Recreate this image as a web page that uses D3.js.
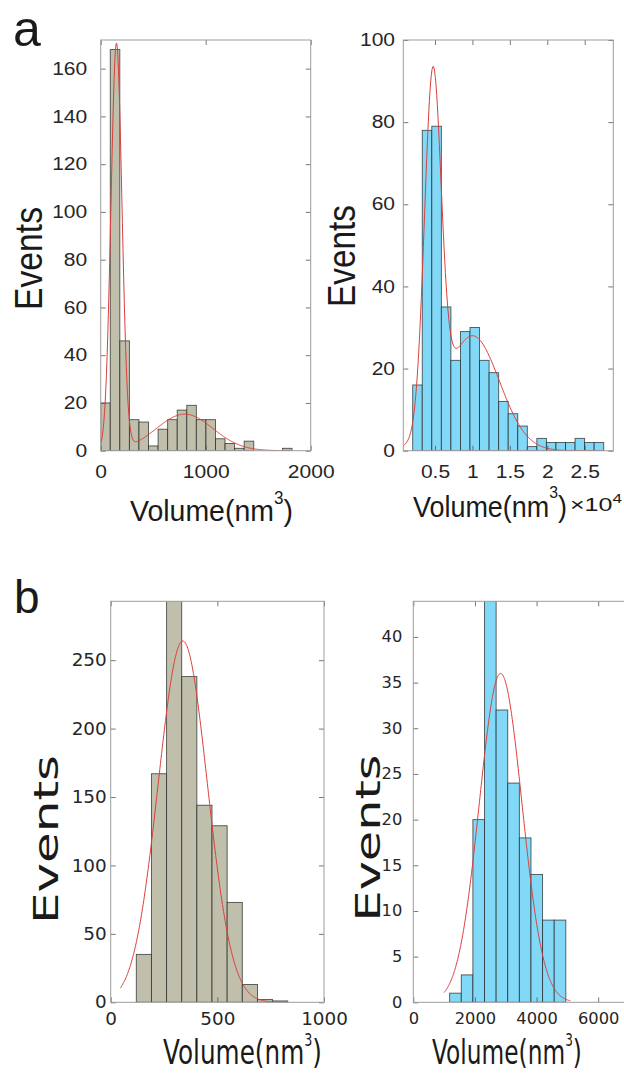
<!DOCTYPE html>
<html>
<head>
<meta charset="utf-8">
<script src="https://cdn.jsdelivr.net/npm/d3@7"></script>
<style>
html,body{margin:0;padding:0;background:#fff;}
svg{display:block;}
</style>
</head>
<body>
<svg id="chart" width="624" height="1077"></svg>
<script>
// ---------------- DATA ----------------
// Panel a, left: grey histogram (Volume in nm^3)
const aLeftCounts = [20, 168, 46, 13, 12, 2, 9, 13, 17, 19, 13, 13, 5, 3, 1, 4, 0, 0, 0, 1];
const aLeftBinStart = 0;
const aLeftBinWidth = 91.1;
const aLeftXDomain = [0, 2000];
const aLeftYDomain = [0, 172];
const aLeftXTicks = [0, 1000, 2000];
const aLeftYTicks = [0, 20, 40, 60, 80, 100, 120, 140, 160];
const aLeftFitMu = [150, 800];
const aLeftFitSigma = [52, 270];
const aLeftFitAmp = [170, 15.3];
const aLeftFitRange = [0, 1822];

// Panel a, right: blue histogram (Volume in 10^4 nm^3)
const aRightCounts = [16, 78, 79, 35, 22, 29, 30, 22, 19, 12, 9, 6, 1, 3, 2, 2, 2, 3, 2, 2];
const aRightBinStart = 0.202;
const aRightBinWidth = 0.1276;
const aRightXDomain = [0.0764, 2.882];
const aRightYDomain = [0, 100];
const aRightXTicks = [0.5, 1, 1.5, 2, 2.5];
const aRightYTicks = [0, 20, 40, 60, 80, 100];
const aRightFitMu = [0.47, 1.0];
const aRightFitSigma = [0.111, 0.36];
const aRightFitAmp = [84, 28];
const aRightFitRange = [0.0764, 2.754];

// Panel b, left: grey histogram
const bLeftCounts = [35, 167, 300, 238, 144, 129, 73, 13, 2, 1];
const bLeftBinStart = 120;
const bLeftBinWidth = 71;
const bLeftXDomain = [0, 1000];
const bLeftYDomain = [0, 293];
const bLeftXTicks = [0, 500, 1000];
const bLeftYTicks = [0, 50, 100, 150, 200, 250];
const bLeftFitMu = [338];
const bLeftFitSigma = [115];
const bLeftFitAmp = [264];
const bLeftFitRange = [45, 830];

// Panel b, right: blue histogram
const bRightCounts = [1, 3, 20, 46, 32, 24, 18, 14, 9, 9];
const bRightBinStart = 1180;
const bRightBinWidth = 377;
const bRightXDomain = [0, 7000];
const bRightYDomain = [0, 43.9];
const bRightXTicks = [0, 2000, 4000, 6000];
const bRightYTicks = [0, 5, 10, 15, 20, 25, 30, 35, 40];
const bRightFitMu = [2834];
const bRightFitSigma = [691];
const bRightFitAmp = [36];
const bRightFitRange = [1000, 5100];

// ---------------- STYLE ----------------
const GREY = "#bfbfab";
const BLUE = "#82d9f7";
const EDGE = "#1f1f1f";
const FIT = "#d9403c";
const BOX = "#9d9d9d";
const TXT = "#262626";
const FONT_A = "'Liberation Sans', Arial, sans-serif";
const FONT_B = "'DejaVu Sans', Verdana, sans-serif";

const svg = d3.select("#chart");

function fitCurve(mu, sigma, amp, range) {
  const n = 300;
  const pts = [];
  for (let i = 0; i <= n; i++) {
    const x = range[0] + (range[1] - range[0]) * i / n;
    let y = 0;
    for (let k = 0; k < mu.length; k++) {
      y += amp[k] * Math.exp(-((x - mu[k]) ** 2) / (2 * sigma[k] ** 2));
    }
    pts.push([x, y]);
  }
  return pts;
}

let clipId = 0;
function drawPanel(p) {
  const x = d3.scaleLinear().domain(p.xDomain).range([p.left, p.right]);
  const y = d3.scaleLinear().domain(p.yDomain).range([p.bottom, p.top]);
  const g = svg.append("g");
  const id = "clip" + (clipId++);
  g.append("clipPath").attr("id", id).append("rect")
    .attr("x", p.left).attr("y", p.top)
    .attr("width", p.right - p.left).attr("height", p.bottom - p.top);
  const plot = g.append("g").attr("clip-path", `url(#${id})`);

  const bins = p.counts.map((c, i) => ({
    x0: p.binStart + i * p.binWidth,
    x1: p.binStart + (i + 1) * p.binWidth,
    c
  }));
  plot.selectAll("rect.bar").data(bins.filter(b => b.c > 0)).join("rect")
    .attr("class", "bar")
    .attr("x", d => x(d.x0))
    .attr("width", d => x(d.x1) - x(d.x0))
    .attr("y", d => y(d.c))
    .attr("height", d => y(0) - y(d.c))
    .attr("fill", p.color)
    .attr("stroke", EDGE)
    .attr("stroke-opacity", 0.75)
    .attr("stroke-width", 0.9);

  const pts = fitCurve(p.fitMu, p.fitSigma, p.fitAmp, p.fitRange);
  plot.append("path")
    .datum(pts)
    .attr("d", d3.line().x(d => x(d[0])).y(d => y(d[1])))
    .attr("fill", "none")
    .attr("stroke", FIT)
    .attr("stroke-width", 1);

  // axes (ticks inward on all four sides)
  const tl = 5;
  const gx = g.append("g").attr("transform", `translate(0,${p.bottom})`)
    .call(d3.axisBottom(x).tickValues(p.xTicks).tickSize(-tl).tickPadding(p.xPad).tickFormat(d => d));
  const gy = g.append("g").attr("transform", `translate(${p.left},0)`)
    .call(d3.axisLeft(y).tickValues(p.yTicks).tickSize(-tl).tickPadding(p.yPad));
  g.append("g").attr("transform", `translate(0,${p.top})`)
    .call(d3.axisTop(x).tickValues(p.xTicks).tickSize(-tl).tickFormat(""));
  g.append("g").attr("transform", `translate(${p.right},0)`)
    .call(d3.axisRight(y).tickValues(p.yTicks).tickSize(-tl).tickFormat(""));
  g.selectAll(".domain").remove();
  g.selectAll(".tick line").attr("stroke", "#555").attr("stroke-width", 0.8);
  [gx, gy].forEach(a => {
    a.attr("font-family", p.font).attr("font-size", p.tickFont);
    a.selectAll("text").attr("fill", TXT).each(function () {
      const t = d3.select(this);
      const L = this.getComputedTextLength();
      if (L > 0) t.attr("textLength", L * p.tickSx).attr("lengthAdjust", "spacingAndGlyphs");
    });
  });

  g.append("rect")
    .attr("x", p.left).attr("y", p.top)
    .attr("width", p.right - p.left).attr("height", p.bottom - p.top)
    .attr("fill", "none").attr("stroke", BOX).attr("stroke-width", 1);
}

function label(txt, x, y, size, len, font, opts = {}) {
  const t = svg.append("text")
    .attr("x", x).attr("y", y)
    .attr("font-family", font).attr("font-size", size)
    .attr("fill", "#1a1a1a")
    .attr("text-anchor", opts.anchor || "start")
    .text(txt);
  if (len) t.attr("textLength", len).attr("lengthAdjust", "spacingAndGlyphs");
  if (opts.rotate) t.attr("transform", `rotate(${opts.rotate},${x},${y})`);
  return t;
}

// "Volume(nm^3)" laid out naturally, then scaled as a whole to the measured width
function volumeLabel(x, y, size, supSize, supDy, width, font) {
  const g = svg.append("g");
  const t = g.append("text")
    .attr("x", 0).attr("y", 0)
    .attr("font-family", font).attr("font-size", size)
    .attr("fill", "#1a1a1a");
  t.append("tspan").text("Volume(nm");
  t.append("tspan").attr("font-size", supSize).attr("dy", supDy).text("3");
  t.append("tspan").attr("dy", -supDy).text(")");
  const w = t.node().getBBox().width;
  g.attr("transform", `translate(${x},${y}) scale(${width / w},1)`);
  return g;
}

// ---------------- PANELS ----------------
drawPanel({
  counts: aLeftCounts, binStart: aLeftBinStart, binWidth: aLeftBinWidth,
  xDomain: aLeftXDomain, yDomain: aLeftYDomain, xTicks: aLeftXTicks, yTicks: aLeftYTicks,
  fitMu: aLeftFitMu, fitSigma: aLeftFitSigma, fitAmp: aLeftFitAmp, fitRange: aLeftFitRange,
  color: GREY, left: 100.7, right: 310.7, top: 40, bottom: 450.7,
  font: FONT_A, tickFont: 17.5, tickSx: 1.2, xPad: 15, yPad: 13.5
});
drawPanel({
  counts: aRightCounts, binStart: aRightBinStart, binWidth: aRightBinWidth,
  xDomain: aRightXDomain, yDomain: aRightYDomain, xTicks: aRightXTicks, yTicks: aRightYTicks,
  fitMu: aRightFitMu, fitSigma: aRightFitSigma, fitAmp: aRightFitAmp, fitRange: aRightFitRange,
  color: BLUE, left: 403.3, right: 613.3, top: 40, bottom: 450.7,
  font: FONT_A, tickFont: 17.5, tickSx: 1.2, xPad: 15, yPad: 8.3
});
drawPanel({
  counts: bLeftCounts, binStart: bLeftBinStart, binWidth: bLeftBinWidth,
  xDomain: bLeftXDomain, yDomain: bLeftYDomain, xTicks: bLeftXTicks, yTicks: bLeftYTicks,
  fitMu: bLeftFitMu, fitSigma: bLeftFitSigma, fitAmp: bLeftFitAmp, fitRange: bLeftFitRange,
  color: GREY, left: 110.7, right: 324, top: 601.3, bottom: 1002.3,
  font: FONT_B, tickFont: 17.5, tickSx: 1.05, xPad: 10, yPad: 4
});
drawPanel({
  counts: bRightCounts, binStart: bRightBinStart, binWidth: bRightBinWidth,
  xDomain: bRightXDomain, yDomain: bRightYDomain, xTicks: bRightXTicks, yTicks: bRightYTicks,
  fitMu: bRightFitMu, fitSigma: bRightFitSigma, fitAmp: bRightFitAmp, fitRange: bRightFitRange,
  color: BLUE, left: 413.3, right: 629, top: 601.3, bottom: 1002.3,
  font: FONT_B, tickFont: 15.5, tickSx: 1.05, xPad: 11, yPad: 11
});

// ---------------- LABELS ----------------
// panel letters
label("a", 13, 46, 50, null, FONT_A);
label("b", 14, 613, 46, null, FONT_A);

// Events (y labels)
label("Events", 42, 258.5, 38, 103, FONT_A, { anchor: "middle", rotate: -90 });
label("Events", 355, 256, 38, 102, FONT_A, { anchor: "middle", rotate: -90 });
label("Events", 58, 839.5, 33, 169, FONT_B, { anchor: "middle", rotate: -90 });
label("Events", 380, 838, 33, 167, FONT_B, { anchor: "middle", rotate: -90 });

// Volume (x labels)
volumeLabel(130, 521, 30, 18, -17, 163, FONT_A);
volumeLabel(413, 517, 29, 17, -19, 154, FONT_A);
const x10 = svg.append("g");
const x10t = x10.append("text").attr("x", 0).attr("y", 0)
  .attr("font-family", FONT_A).attr("font-size", 19).attr("fill", "#1a1a1a");
x10t.append("tspan").text("\u00d710");
x10t.append("tspan").attr("font-size", 13).attr("dy", -8).text("4");
x10.attr("transform", `translate(570,511) scale(${52 / x10t.node().getBBox().width},1)`);

volumeLabel(163, 1064, 34, 17.5, -18.5, 159, FONT_B);
volumeLabel(432, 1064, 33, 17, -18, 150, FONT_B);
</script>
</body>
</html>
